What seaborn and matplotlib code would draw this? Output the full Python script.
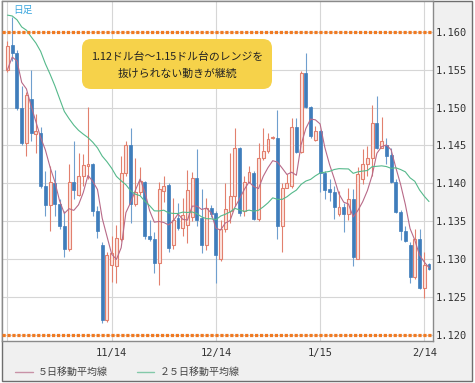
import numpy as np
import pandas as pd
import matplotlib
matplotlib.use("Agg")
import matplotlib.pyplot as plt
import seaborn as sns
from matplotlib.patches import FancyBboxPatch, Rectangle
from matplotlib.lines import Line2D
from matplotlib.transforms import IdentityTransform

# ---------------- data (EUR/USD daily) ----------------
start_date = "2018-10-15"
opens = [1.1550, 1.1582, 1.1572, 1.1500, 1.1453, 1.1511, 1.1465, 1.1467, 1.1396, 1.1371,
         1.1401, 1.1372, 1.1343, 1.1313, 1.1402, 1.1384, 1.1409, 1.1423, 1.1425, 1.1363,
         1.1319, 1.1219, 1.1292, 1.1291, 1.1326, 1.1414, 1.1451, 1.1372, 1.1388, 1.1402,
         1.1331, 1.1327, 1.1295, 1.1390, 1.1398, 1.1318, 1.1354, 1.1341, 1.1345, 1.1356,
         1.1407, 1.1354, 1.1319, 1.1367, 1.1361, 1.1300, 1.1340, 1.1364, 1.1383, 1.1447,
         1.1363, 1.1402, 1.1414, 1.1353, 1.1433, 1.1442, 1.1460, 1.1460, 1.1344, 1.1394,
         1.1397, 1.1474, 1.1441, 1.1546, 1.1501, 1.1457, 1.1469, 1.1414, 1.1392, 1.1388,
         1.1359, 1.1368, 1.1360, 1.1379, 1.1300, 1.1405, 1.1425, 1.1434, 1.1480, 1.1447,
         1.1450, 1.1437, 1.1402, 1.1362, 1.1337, 1.1318, 1.1276, 1.1326, 1.1262, 1.1294]
closes = [1.1581, 1.1572, 1.1500, 1.1453, 1.1517, 1.1467, 1.1469, 1.1396, 1.1371, 1.1402,
          1.1372, 1.1343, 1.1313, 1.1402, 1.1391, 1.1409, 1.1424, 1.1426, 1.1363, 1.1337,
          1.1219, 1.1305, 1.1308, 1.1328, 1.1414, 1.1451, 1.1372, 1.1388, 1.1403, 1.1331,
          1.1326, 1.1295, 1.1393, 1.1396, 1.1315, 1.1352, 1.1341, 1.1358, 1.1391, 1.1407,
          1.1352, 1.1319, 1.1367, 1.1360, 1.1305, 1.1340, 1.1366, 1.1383, 1.1447, 1.1361,
          1.1402, 1.1415, 1.1353, 1.1434, 1.1442, 1.1459, 1.1461, 1.1344, 1.1394, 1.1400,
          1.1474, 1.1441, 1.1546, 1.1501, 1.1462, 1.1469, 1.1414, 1.1391, 1.1388, 1.1368,
          1.1368, 1.1360, 1.1379, 1.1302, 1.1412, 1.1425, 1.1434, 1.1480, 1.1447, 1.1456,
          1.1436, 1.1402, 1.1362, 1.1337, 1.1324, 1.1276, 1.1326, 1.1262, 1.1292, 1.1287]
highs = [1.1588, 1.1620, 1.1576, 1.1528, 1.1521, 1.1550, 1.1492, 1.1474, 1.1416, 1.1423,
         1.1417, 1.1379, 1.1363, 1.1425, 1.1456, 1.1440, 1.1438, 1.1501, 1.1427, 1.1370,
         1.1322, 1.1309, 1.1330, 1.1345, 1.1436, 1.1456, 1.1473, 1.1434, 1.1421, 1.1403,
         1.1352, 1.1335, 1.1402, 1.1410, 1.1401, 1.1380, 1.1374, 1.1380, 1.1418, 1.1415,
         1.1445, 1.1393, 1.1380, 1.1371, 1.1363, 1.1352, 1.1401, 1.1440, 1.1473, 1.1448,
         1.1410, 1.1423, 1.1416, 1.1453, 1.1473, 1.1467, 1.1462, 1.1497, 1.1401, 1.1412,
         1.1486, 1.1486, 1.1548, 1.1572, 1.1502, 1.1475, 1.1470, 1.1416, 1.1405, 1.1396,
         1.1390, 1.1374, 1.1394, 1.1392, 1.1421, 1.1445, 1.1449, 1.1503, 1.1515, 1.1488,
         1.1460, 1.1447, 1.1406, 1.1365, 1.1344, 1.1322, 1.1339, 1.1340, 1.1309, 1.1295]
lows = [1.1547, 1.1561, 1.1497, 1.1451, 1.1436, 1.1456, 1.1440, 1.1394, 1.1357, 1.1337,
        1.1357, 1.1340, 1.1302, 1.1311, 1.1379, 1.1383, 1.1396, 1.1405, 1.1357, 1.1328,
        1.1216, 1.1217, 1.1270, 1.1268, 1.1324, 1.1410, 1.1348, 1.1370, 1.1385, 1.1326,
        1.1324, 1.1282, 1.1266, 1.1375, 1.1309, 1.1313, 1.1338, 1.1330, 1.1321, 1.1350,
        1.1343, 1.1308, 1.1312, 1.1355, 1.1268, 1.1297, 1.1335, 1.1348, 1.1370, 1.1357,
        1.1357, 1.1401, 1.1352, 1.1350, 1.1431, 1.1440, 1.1459, 1.1326, 1.1309, 1.1394,
        1.1394, 1.1440, 1.1440, 1.1500, 1.1460, 1.1456, 1.1388, 1.1379, 1.1377, 1.1353,
        1.1357, 1.1335, 1.1352, 1.1291, 1.1300, 1.1399, 1.1410, 1.1410, 1.1445, 1.1447,
        1.1425, 1.1401, 1.1361, 1.1325, 1.1322, 1.1268, 1.1274, 1.1261, 1.1249, 1.1286]
# closes before the visible window, estimated so the moving-average lines start where drawn
prior_closes = [1.1600, 1.1625, 1.1690, 1.1625, 1.1685, 1.1675, 1.1670, 1.1780, 1.1750, 1.1750,
                1.1770, 1.1735, 1.1640, 1.1605, 1.1580, 1.1550, 1.1540, 1.1515, 1.1525, 1.1490,
                1.1490, 1.1525, 1.1595, 1.1560]
tick_dates = ["2018-10-15", "2018-11-14", "2018-12-14", "2019-01-15", "2019-02-14"]
tick_labels = ["", "11/14", "12/14", "1/15", "2/14"]
y_ticks = [1.120, 1.125, 1.130, 1.135, 1.140, 1.145, 1.150, 1.155, 1.160]
range_lines = [1.160, 1.120]
note_lines = ["1.12ドル台～1.15ドル台のレンジを", "抜けられない動きが継続"]
legend_labels = ["５日移動平均線", "２５日移動平均線"]

# ---------------- prep ----------------
n = len(closes)
dates = pd.bdate_range(start_date, periods=n)
df = pd.DataFrame({"open": opens, "high": highs, "low": lows, "close": closes}, index=dates)
df["x"] = np.arange(n)
allc = pd.Series(prior_closes + closes)
df["ma5"] = allc.rolling(5).mean().values[len(prior_closes):]
df["ma25"] = allc.rolling(25).mean().values[len(prior_closes):]
up = df[df.close >= df.open]
dn = df[df.close < df.open]

sns.set_theme(style="white")
plt.rcParams["font.family"] = ["Noto Sans CJK JP", "DejaVu Sans"]

W, H = 475, 383
fig = plt.figure(figsize=(W / 100, H / 100), dpi=100)
fig.patch.set_facecolor("white")
fig.add_artist(Rectangle((1.5 / W, 2 / H), 470.5 / W, 380 / H, transform=fig.transFigure,
                         facecolor="#f0f0f0", edgecolor="#6e6e6e", lw=1.0, zorder=0))

ax = fig.add_axes([2 / W, 42 / H, 430.5 / W, 340 / H])
ax.set_facecolor("white")

# grid
ax.set_yticks(y_ticks)
ax.set_yticklabels([f"{v:.3f}" for v in y_ticks])
ax.set_xticks([df.loc[pd.Timestamp(d), "x"] for d in tick_dates])
ax.set_xticklabels(tick_labels)
ax.grid(True, color="#d6d6d6", lw=0.8, zorder=0)
ax.set_axisbelow(True)

UP_EDGE, UP_FILL = "#e2806e", "#fde6e1"
DN_FILL, DN_WICK = "#3f7dbb", "#6f9fce"
ax.vlines(up.x, up.low, up.high, color=UP_EDGE, lw=0.8, zorder=2)
ax.vlines(dn.x, dn.low, dn.high, color=DN_WICK, lw=0.8, zorder=2)
ax.bar(up.x, np.maximum(up.close - up.open, 0.00003), bottom=up.open, width=0.62,
       facecolor=UP_FILL, edgecolor=UP_EDGE, linewidth=0.8, zorder=3)
ax.bar(dn.x, dn.close - dn.open, bottom=dn.open, width=0.62,
       facecolor=DN_FILL, edgecolor=DN_FILL, linewidth=0.5, zorder=3)

MA5_C, MA25_C = "#b86a88", "#55b98b"
sns.lineplot(x=df.x.values, y=df.ma5.values, ax=ax, color=MA5_C, lw=0.8, zorder=4)
sns.lineplot(x=df.x.values, y=df.ma25.values, ax=ax, color=MA25_C, lw=0.8, zorder=4)

for v in range_lines:
    ax.axhline(v, color="#f07a22", lw=2.3, linestyle=(0, (1.0, 0.55)),
               dash_capstyle="butt", zorder=5)

ax.set_xlim(-1.16, 89.74)
ax.set_ylim(1.11917, 1.16407)
ax.set_xlabel("")
ax.set_ylabel("")
ax.yaxis.tick_right()
ax.tick_params(axis="y", length=0, pad=2, labelsize=7.5, labelcolor="#333333")
ax.tick_params(axis="x", length=0, pad=5, labelsize=7.5, labelcolor="#333333")
for lab in ax.get_yticklabels() + ax.get_xticklabels():
    lab.set_fontfamily("DejaVu Sans Mono")
for s in ax.spines.values():
    s.set_color("#8a8a8a")
    s.set_linewidth(1.0)

# annotation box
box = FancyBboxPatch((82, H - 89), 190, 50, boxstyle="round,pad=0,rounding_size=9",
                     transform=IdentityTransform(), facecolor="#f6d24a", edgecolor="none", zorder=6)
fig.add_artist(box)
fig.text(177 / W, (H - 57) / H, note_lines[0], ha="center", va="center", fontsize=7.8,
         color="#222222", zorder=7)
fig.text(177 / W, (H - 74) / H, note_lines[1], ha="center", va="center", fontsize=7.8,
         color="#222222", zorder=7)

fig.text(13 / W, (H - 9.5) / H, "日足", ha="left", va="center", fontsize=7, color="#3aa6de")

# legend
for (x0, x1, tx, c, lab) in [(15, 33, 38, MA5_C, legend_labels[0]),
                             (137, 154, 160, MA25_C, legend_labels[1])]:
    fig.add_artist(Line2D([x0 / W, x1 / W], [(H - 372) / H] * 2, transform=fig.transFigure,
                          color=c, lw=1.0, alpha=0.7))
    fig.text(tx / W, (H - 372) / H, lab, ha="left", va="center", fontsize=7.2, color="#444444")

fig.savefig("out.png", dpi=100, facecolor=fig.get_facecolor())
